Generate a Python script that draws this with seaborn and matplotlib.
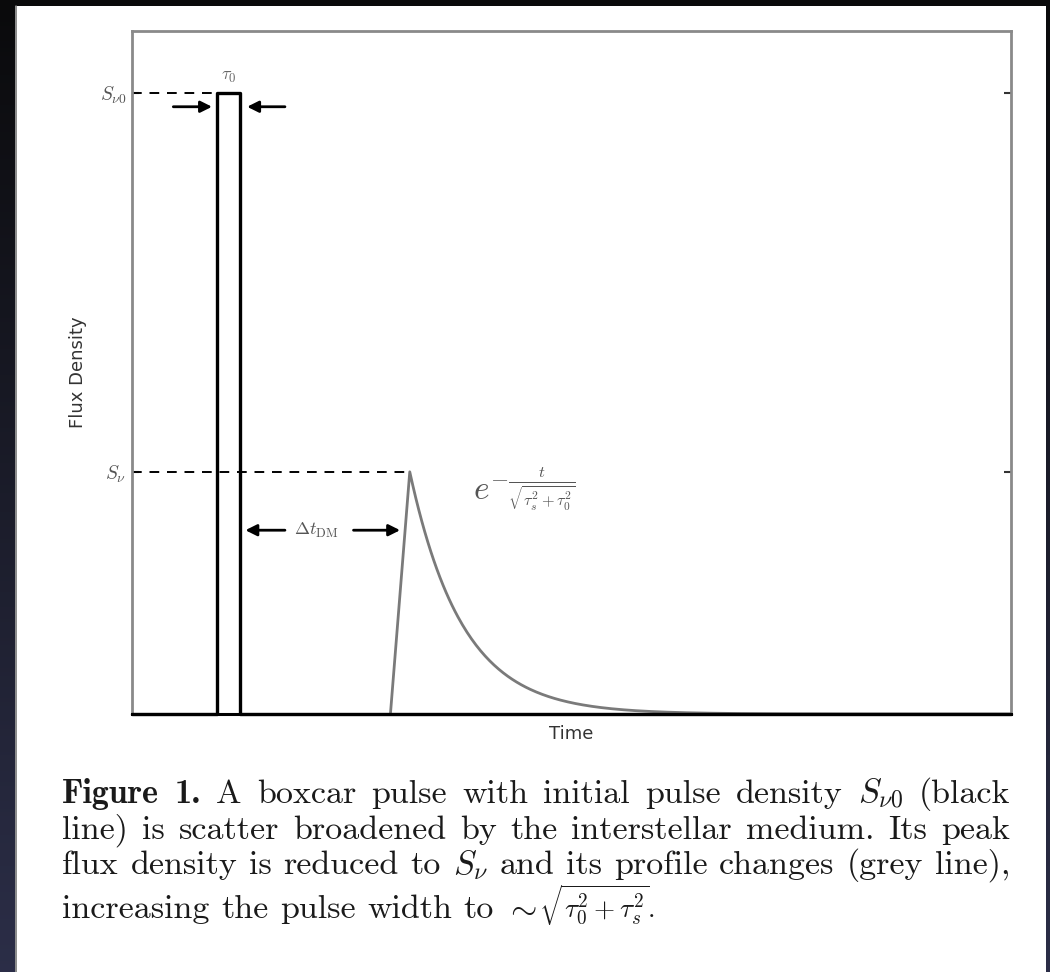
import numpy as np
import pandas as pd
import matplotlib
matplotlib.use("Agg")
import matplotlib.pyplot as plt
import seaborn as sns
from matplotlib.patches import Rectangle

# ---- pulse description (time in arbitrary units, flux in units of S_nu0) ----
time_range = [0.0, 100.0]
flux_range = [0.0, 1.1]
box_start = 9.7          # leading edge of the boxcar pulse
tau_0 = 2.6              # intrinsic pulse width
S_nu0 = 1.0              # initial peak flux density
S_nu = 0.39              # peak flux density after scattering
scatter_start = 29.4     # scattered pulse starts rising
scatter_peak = 31.6      # scattered pulse peak time
decay_width = 6.0        # sqrt(tau_s^2 + tau_0^2)

tick_values = [S_nu, S_nu0]
tick_labels = [r"$S_\nu$", r"$S_{\nu0}$"]

# caption words: (text, style, size scale)
caption_lines = [
    [(r"Figure", "b", 1), (r"1.", "b", 1), ("A", "", 1), ("boxcar", "", 1), ("pulse", "", 1),
     ("with", "", 1), ("initial", "", 1), ("pulse", "", 1), ("density", "", 1),
     (r"$S_{\nu0}$", "m", 1), ("(black", "", 1)],
    [("line)", "", 1), ("is", "", 1), ("scatter", "", 1), ("broadened", "", 1), ("by", "", 1),
     ("the", "", 1), ("interstellar", "", 1), ("medium.", "", 1), ("Its", "", 1), ("peak", "", 1)],
    [("flux", "", 1), ("density", "", 1), ("is", "", 1), ("reduced", "", 1), ("to", "", 1),
     (r"$S_\nu$", "m", 1), ("and", "", 1), ("its", "", 1), ("profile", "", 1),
     ("changes", "", 1), ("(grey", "", 1), ("line),", "", 1)],
    [("increasing", "", 1), ("the", "", 1), ("pulse", "", 1), ("width", "", 1), ("to", "", 1),
     (r"$\sim$", "m", 1), (r"$\sqrt{\tau_0^2+\tau_s^2}$.", "m", 0.8)],
]

# ---- build the two traces ----
box_t = [time_range[0], box_start, box_start, box_start + tau_0, box_start + tau_0, time_range[1]]
box_f = [0.0, 0.0, S_nu0, S_nu0, 0.0, 0.0]
black = pd.DataFrame({"time": box_t, "flux": box_f})

decay_t = np.linspace(scatter_peak, time_range[1], 400)
decay_f = S_nu * np.exp(-(decay_t - scatter_peak) / decay_width)
grey = pd.DataFrame({"time": np.concatenate([[scatter_start], decay_t]),
                     "flux": np.concatenate([[0.0], decay_f])})

sns.set_theme(style="white")
plt.rcParams["mathtext.fontset"] = "cm"
plt.rcParams["font.family"] = ["DejaVu Sans"]

W, H = 1050, 972
fig = plt.figure(figsize=(W / 100, H / 100), dpi=100)

# ---- dark surround and white page ----
bg = fig.add_axes([0, 0, 1, 1], zorder=-10)
grad = np.linspace(0, 1, 256)[:, None]
top_c = np.array([0.04, 0.04, 0.045])
bot_c = np.array([0.17, 0.18, 0.28])
img = top_c[None, None, :] * (1 - grad[:, :, None]) + bot_c[None, None, :] * grad[:, :, None]
bg.imshow(img, extent=[0, W, H, 0], aspect="auto")
bg.add_patch(Rectangle((15, 6), 1031, 966, facecolor="white", edgecolor="none"))
bg.plot([15.5, 15.5], [6, H], color="#777777", lw=1.2)
bg.set_xlim(0, W)
bg.set_ylim(H, 0)
bg.axis("off")

# ---- main axes ----
ax = fig.add_axes([132 / W, 1 - 714 / H, 879 / W, 683 / H])
ax.set_facecolor("none")

sns.lineplot(data=black, x="time", y="flux", sort=False, estimator=None,
             color="black", lw=2.4, ax=ax, zorder=4, clip_on=False)
sns.lineplot(data=grey, x="time", y="flux", sort=False, estimator=None,
             color="#7a7a7a", lw=2.0, ax=ax, zorder=3)

# dashed guides from the axis to each peak
ax.hlines(S_nu0, time_range[0], box_start, colors="black", lw=1.4, linestyles=(0, (5, 4)))
ax.hlines(S_nu, time_range[0], scatter_peak, colors="black", lw=1.4, linestyles=(0, (5, 4)))

ax.set_xlim(*time_range)
ax.set_ylim(*flux_range)

for side in ["left", "right", "top"]:
    ax.spines[side].set_color("#8a8a8a")
    ax.spines[side].set_linewidth(2.0)
ax.spines["bottom"].set_color("black")
ax.spines["bottom"].set_linewidth(2.2)

ax.set_xticks([])
ax.set_yticks(tick_values)
ax.set_yticklabels(tick_labels, fontsize=14, color="#555555")
ax.tick_params(axis="y", which="both", left=True, right=True, direction="in",
               length=5, width=1.5, color="#333333", pad=4)

ax.set_xlabel("Time", fontsize=13, color="#333333", labelpad=8)
ax.set_ylabel("Flux Density", fontsize=13, color="#333333", labelpad=9)

# width markers around the boxcar
arrow_kw = dict(arrowstyle="-|>", color="black", lw=2.0, mutation_scale=17,
                shrinkA=0, shrinkB=0)
arrow_y = 0.978
ax.annotate("", xy=(box_start - 0.6, arrow_y), xytext=(box_start - 5.0, arrow_y), arrowprops=arrow_kw)
ax.annotate("", xy=(box_start + tau_0 + 0.8, arrow_y), xytext=(box_start + tau_0 + 5.1, arrow_y),
            arrowprops=arrow_kw)
ax.text(box_start + tau_0 / 2, 1.027, r"$\tau_0$", ha="center", va="center", fontsize=13, color="#666666")

# dispersion delay marker
dm_y = 0.296
ax.annotate("", xy=(box_start + tau_0 + 0.6, dm_y), xytext=(17.4, dm_y), arrowprops=arrow_kw)
ax.annotate("", xy=(scatter_start + 1.1, dm_y), xytext=(25.2, dm_y), arrowprops=arrow_kw)
ax.text(21.0, dm_y, r"$\Delta t_{\rm DM}$", ha="center", va="center", fontsize=13, color="#555555")

# scattering tail law
ax.text(44.6, 0.362, r"$e^{-\frac{t}{\sqrt{\tau_s^2+\tau_0^2}}}$", ha="center", va="center",
        fontsize=24, color="#555555")

# ---- caption, justified between the page margins ----
cap_fs = 24.5
x_left, x_right = 62, 1010
baselines = [803, 839, 874, 918]
renderer = fig.canvas.get_renderer()
for li, (words, ybase) in enumerate(zip(caption_lines, baselines)):
    arts = []
    for s, kind, scale in words:
        fam = "cmb10" if kind == "b" else "cmr10"
        t = fig.text(0, 1 - ybase / H, s, fontsize=cap_fs * scale, family=fam,
                     ha="left", va="baseline", color="#1a1a1a")
        arts.append(t)
    widths = [a.get_window_extent(renderer).width for a in arts]
    if li < len(caption_lines) - 1:
        gaps = [(x_right - x_left - sum(widths)) / (len(arts) - 1)] * (len(arts) - 1)
    else:
        sp = cap_fs * 100 / 72 * 0.34
        gaps = [sp] * (len(arts) - 2) + [1.0]
    x = x_left
    for i, (a, w) in enumerate(zip(arts, widths)):
        a.set_x(x / W)
        if i < len(gaps):
            x += w + gaps[i]

fig.savefig("out.png", dpi=100)
